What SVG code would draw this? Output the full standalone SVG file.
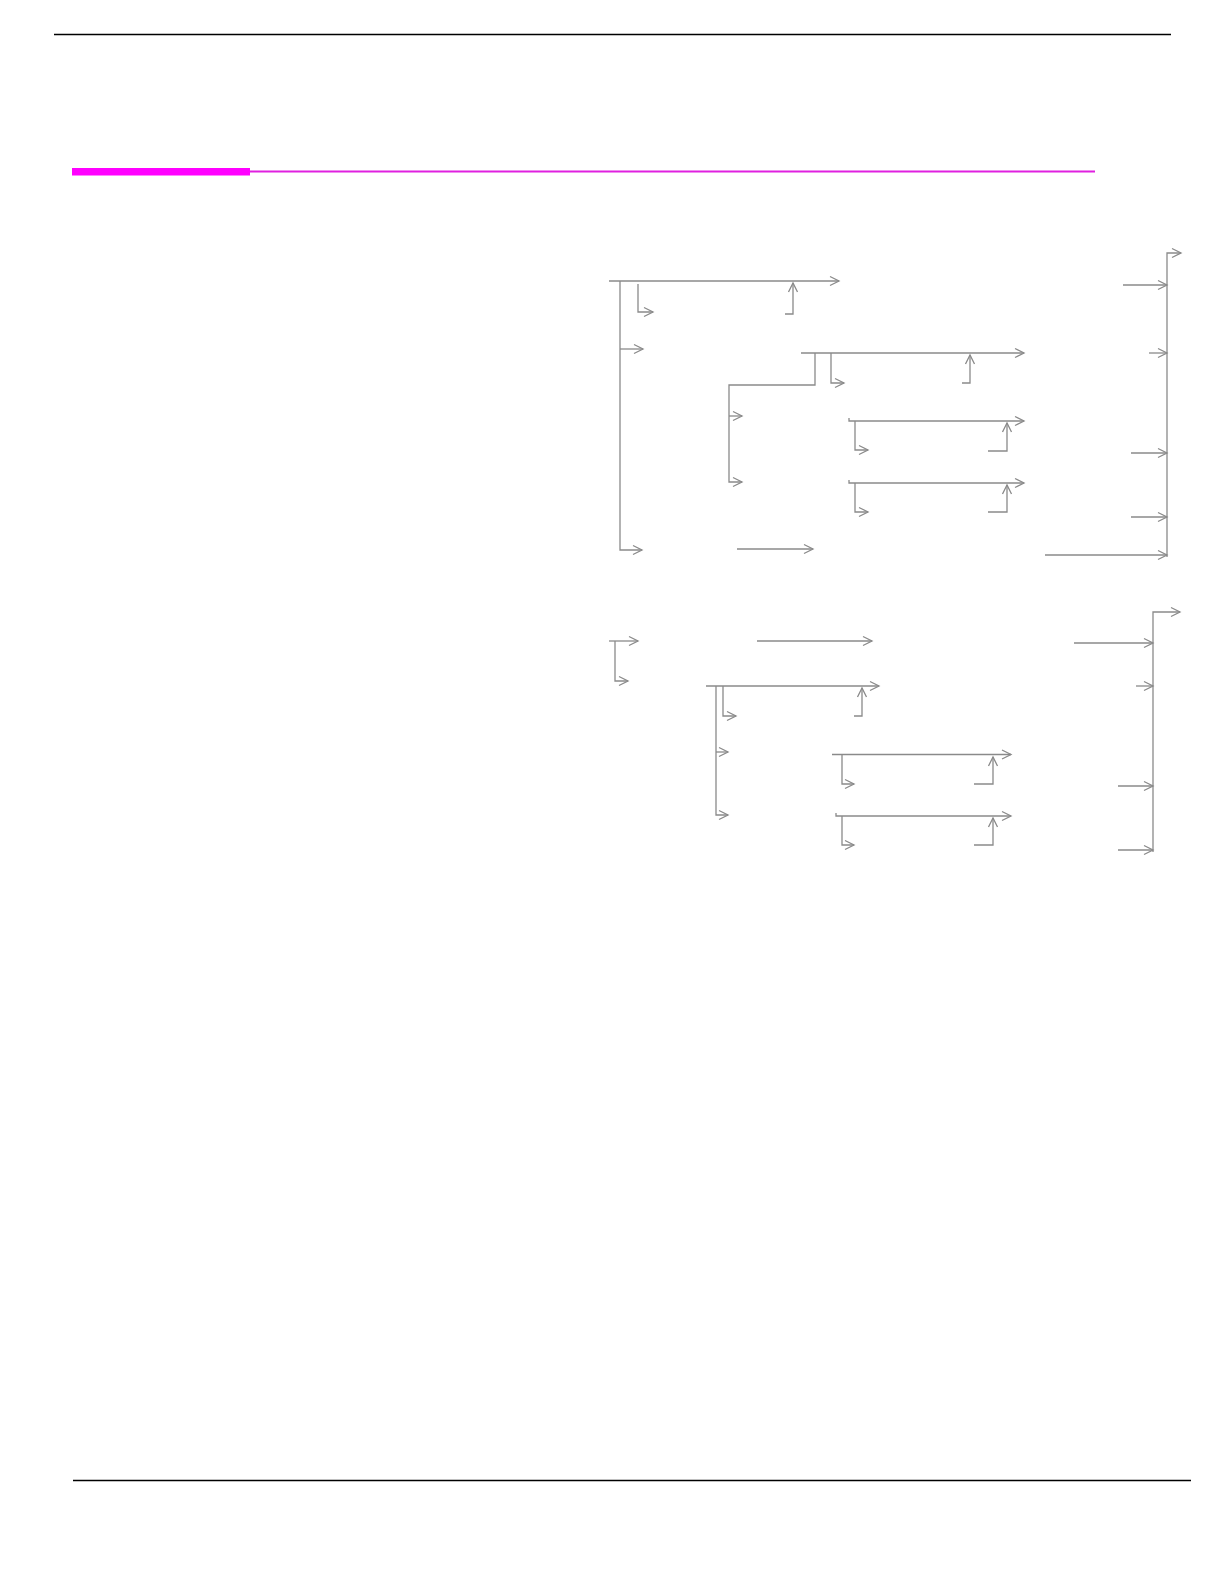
<svg xmlns="http://www.w3.org/2000/svg" width="1224" height="1582" viewBox="0 0 1224 1582">
<defs>
<style>
.c{fill:none;stroke:#8a8a8a;stroke-width:1.3}
.a{marker-end:url(#ah)}
</style>
<marker id="ah" markerUnits="userSpaceOnUse" markerWidth="12" markerHeight="12" refX="9" refY="4.5" orient="auto" overflow="visible">
<path d="M0,0 L9,4.5 L0,9" fill="none" stroke="#8a8a8a" stroke-width="1.3"/>
</marker>
</defs>
<rect width="1224" height="1582" fill="#ffffff"/>
<g id="header">
<line x1="54" y1="34.5" x2="1171" y2="34.5" stroke="#000" stroke-width="1.5"/>
<rect x="72" y="168" width="178" height="7.5" fill="#ff00ff"/>
<line x1="250" y1="171.5" x2="1095" y2="171.5" stroke="#e020e0" stroke-width="2"/>
</g>
<g id="footer">
<line x1="73" y1="1480.5" x2="1191" y2="1480.5" stroke="#000" stroke-width="1.6"/>
</g>
<g id="connectors-top">
<path class="c a" d="M609,281 H839"/>
<path class="c a" d="M620,281 V550 H642"/>
<path class="c a" d="M620,349 H643"/>
<path class="c a" d="M638,284 V312 H653"/>
<path class="c a" d="M785,314 H793 V283"/>
<path class="c a" d="M801,353 H1024"/>
<path class="c a" d="M815,353 V385 H729 V482 H742"/>
<path class="c a" d="M729,416 H742"/>
<path class="c a" d="M831,353 V383 H844"/>
<path class="c a" d="M962,383 H970 V355"/>
<path class="c a" d="M849,418 V421 H1024"/>
<path class="c a" d="M855,421 V450 H868"/>
<path class="c a" d="M988,451 H1007 V423"/>
<path class="c a" d="M849,480 V483 H1024"/>
<path class="c a" d="M855,483 V512 H868"/>
<path class="c a" d="M988,512 H1007 V485"/>
<path class="c a" d="M737,549 H813"/>
<path class="c a" d="M1167,557 V253 H1181"/>
<path class="c a" d="M1123,285 H1167"/>
<path class="c a" d="M1149,353 H1167"/>
<path class="c a" d="M1131,453 H1167"/>
<path class="c a" d="M1131,517 H1167"/>
<path class="c a" d="M1045,555 H1167"/>
</g>
<g id="connectors-bottom">
<path class="c a" d="M609,641 H638"/>
<path class="c a" d="M615,641 V681 H628"/>
<path class="c a" d="M757,641 H872"/>
<path class="c a" d="M706,686 H879"/>
<path class="c a" d="M716,686 V815 H728"/>
<path class="c a" d="M716,752 H728"/>
<path class="c a" d="M723,686 V716 H736"/>
<path class="c a" d="M854,716 H862 V688"/>
<path class="c a" d="M832,754.5 H1011"/>
<path class="c a" d="M842,754.5 V784 H854"/>
<path class="c a" d="M974,784 H993 V757"/>
<path class="c a" d="M836,813 V816 H1011"/>
<path class="c a" d="M842,816 V845 H854"/>
<path class="c a" d="M974,845 H993 V818"/>
<path class="c a" d="M1153,852 V612 H1180"/>
<path class="c a" d="M1074,643 H1153"/>
<path class="c a" d="M1136,686 H1153"/>
<path class="c a" d="M1118,786 H1153"/>
<path class="c a" d="M1118,850 H1153"/>
</g>
</svg>
